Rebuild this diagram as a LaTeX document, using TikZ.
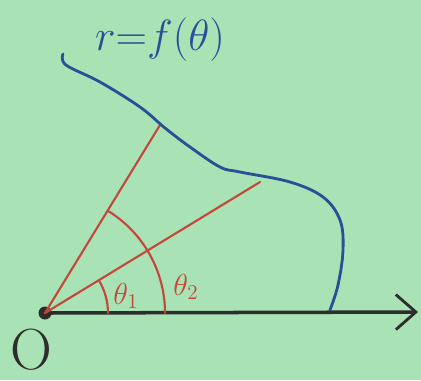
\documentclass[tikz,border=0pt]{standalone}
\usepackage{xcolor}
\usepackage{tikz}
\usepackage{amsmath}
\usetikzlibrary{arrows.meta, positioning}

\definecolor{boardgreen}{RGB}{169,226,181}
\definecolor{curveblue}{RGB}{40,80,150}
\definecolor{rayred}{RGB}{196,72,58}
\definecolor{axisblack}{RGB}{45,45,45}

\begin{document}
\begin{tikzpicture}[
  x=0.02cm, y=0.02cm,
  curve/.style={draw=curveblue, line width=1.6pt, line cap=round, line join=round},
  ray/.style={draw=rayred, line width=1.2pt, line cap=round},
  axis/.style={draw=axisblack, line width=2pt, line cap=round,
               -{Straight Barb[length=0.4cm, width=0.7cm, line width=1.6pt]}},
  dot/.style={circle, fill=axisblack, inner sep=0pt, minimum size=0.26cm},
  anglab/.style={text=rayred, font=\fontsize{17}{17}\selectfont},
  curvelab/.style={text=curveblue, font=\fontsize{24}{24}\selectfont}
]

%% ---- Background ----
\fill[boardgreen] (0,0) rectangle (421,380);
\useasboundingbox (0,0) rectangle (421,380);

%% ---- Pole and axis ----
\node[dot] (O) at (45,67) {};
\coordinate (X) at (418,68);
\node[font=\fontsize{33}{33}\selectfont, text=axisblack] (Olab) at (31,30) {O};
\draw[axis] (O.center) -- (X);

%% ---- Rays ----
\coordinate (P1) at (160,255);
\coordinate (P2) at (260,198);
\draw[ray] (O.center) -- (P1);
\draw[ray] (O.center) -- (P2);

%% ---- Angle arcs ----
\draw[ray] (O.center) ++(63,0) arc[start angle=0, end angle=31.4, radius=63];
\draw[ray] (O.center) ++(120,0) arc[start angle=0, end angle=58.5, radius=120];
\node[anglab] (t1) at (126,84) {$\theta_1$};
\node[anglab] (t2) at (186,93) {$\theta_2$};

%% ---- Curve ----
\draw[curve] plot[smooth, tension=0.6] coordinates {
  (63,326) (66,315) (100,298) (140,273) (165,252) (190,233)
  (220,213) (240,208) (290,198) (323,183) (340,160) (343,130)
  (338,95) (330,70)};
\node[curvelab] (rlab) at (160,340) {$r{=}f(\theta)$};

\end{tikzpicture}
\end{document}
